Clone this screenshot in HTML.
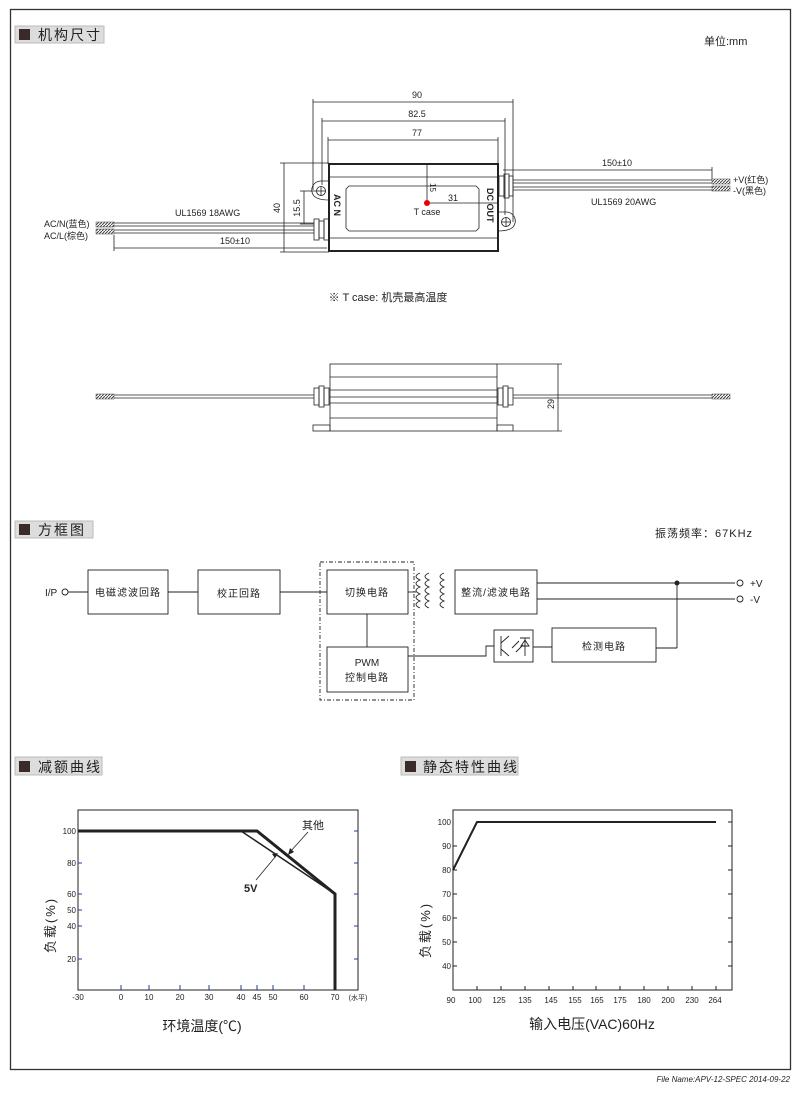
<!DOCTYPE html>
<html><head><meta charset="utf-8"><style>
body{margin:0;background:#fff;width:808px;height:1096px;overflow:hidden}
svg{display:block}
text{font-family:"Liberation Sans","Noto Sans CJK SC",sans-serif;fill:#222}
</style></head><body>
<svg width="808" height="1096" viewBox="0 0 808 1096" xmlns="http://www.w3.org/2000/svg">
<defs>
<pattern id="h" width="3" height="3" patternUnits="userSpaceOnUse"><rect width="3" height="3" fill="#fff"/><path d="M0 3L3 0" stroke="#444" stroke-width="1"/></pattern>
</defs>
<rect x="10.5" y="9.5" width="780" height="1060" fill="none" stroke="#333" stroke-width="1.3"/>

<g>
<rect x="15" y="26" width="89" height="17" fill="#ddd" stroke="#bbb"/><rect x="19" y="29" width="11" height="11" fill="#3a2a2a"/><text x="38" y="40" font-size="14" letter-spacing="2" fill="#444">机构尺寸</text>
<rect x="15" y="521" width="78" height="17" fill="#ddd" stroke="#bbb"/><rect x="19" y="524" width="11" height="11" fill="#3a2a2a"/><text x="38" y="535" font-size="14" letter-spacing="2" fill="#444">方框图</text>
<rect x="15" y="757" width="87" height="18" fill="#ddd" stroke="#bbb"/><rect x="19" y="761" width="11" height="11" fill="#3a2a2a"/><text x="38" y="772" font-size="14" letter-spacing="2" fill="#444">减额曲线</text>
<rect x="401" y="757" width="117" height="18" fill="#ddd" stroke="#bbb"/><rect x="405" y="761" width="11" height="11" fill="#3a2a2a"/><text x="423" y="772" font-size="14" letter-spacing="2" fill="#444">静态特性曲线</text>
<text x="704" y="45" font-size="11">单位:mm</text>
<text x="655" y="537" font-size="11" letter-spacing="1">振荡频率：67KHz</text>
</g>

<g stroke="#222" fill="none" stroke-width="0.8">
<line x1="313" y1="102" x2="513" y2="102"/><line x1="313" y1="99" x2="313" y2="190"/><line x1="513" y1="99" x2="513" y2="222"/>
<line x1="322" y1="121" x2="505" y2="121"/><line x1="322" y1="118" x2="322" y2="185"/><line x1="505" y1="118" x2="505" y2="215"/>
<line x1="328" y1="140" x2="498" y2="140"/><line x1="328" y1="137" x2="328" y2="164"/><line x1="498" y1="137" x2="498" y2="164"/>
<rect x="329" y="164" width="169" height="87" stroke-width="2"/>
<line x1="330" y1="177" x2="498" y2="177"/><line x1="330" y1="238" x2="498" y2="238"/>
<path d="M349 186H476L479 189V228L476 231H349L346 228V189Z"/>
<path d="M329 181H321A9 9 0 0 0 314 196Q318 200 329 200"/><circle cx="321" cy="191" r="4.5"/><line x1="316" y1="191" x2="326" y2="191"/><line x1="321" y1="186" x2="321" y2="196"/>
<path d="M498 212H506A9 9 0 0 1 513 227Q509 231 498 231"/><circle cx="506" cy="222" r="4.5"/><line x1="501" y1="222" x2="511" y2="222"/><line x1="506" y1="217" x2="506" y2="227"/>
<rect x="314" y="219" width="5" height="21"/><rect x="319" y="221" width="5" height="17"/><rect x="324" y="219" width="5" height="21"/>
<rect x="499" y="176" width="5" height="20"/><rect x="504" y="174" width="5" height="24"/><rect x="509" y="176" width="4" height="20"/>
<line x1="114" y1="223" x2="314" y2="223"/><line x1="114" y1="226" x2="314" y2="226"/>
<line x1="114" y1="230" x2="314" y2="230"/><line x1="114" y1="233" x2="314" y2="233"/>
<line x1="513" y1="180" x2="712" y2="180"/><line x1="513" y1="183" x2="712" y2="183"/>
<line x1="513" y1="187" x2="712" y2="187"/><line x1="513" y1="190" x2="712" y2="190"/>
<line x1="114" y1="248" x2="327" y2="248"/><line x1="114" y1="235" x2="114" y2="251"/>
<line x1="503" y1="170" x2="712" y2="170"/><line x1="712" y1="167" x2="712" y2="180"/>
<line x1="284" y1="163" x2="284" y2="252"/><line x1="280" y1="163" x2="329" y2="163"/><line x1="280" y1="252" x2="329" y2="252"/>
<line x1="304" y1="191" x2="304" y2="224"/><line x1="300" y1="191" x2="316" y2="191"/><line x1="300" y1="224" x2="314" y2="224"/>
<line x1="427" y1="164" x2="427" y2="203"/><line x1="427" y1="203" x2="498" y2="203"/>
</g>
<g fill="url(#h)" stroke="#444" stroke-width="0.5">
<rect x="96" y="222" width="18" height="5"/><rect x="96" y="229" width="18" height="5"/>
<rect x="712" y="179" width="18" height="5"/><rect x="712" y="186" width="18" height="5"/>
</g>
<circle cx="427" cy="203" r="3" fill="#e00"/>
<g font-size="9">
<text x="417" y="98" text-anchor="middle">90</text>
<text x="417" y="117" text-anchor="middle">82.5</text>
<text x="417" y="136" text-anchor="middle">77</text>
<text x="617" y="166" text-anchor="middle">150±10</text>
<text x="235" y="244" text-anchor="middle">150±10</text>
<text x="175" y="216">UL1569  18AWG</text>
<text x="591" y="205">UL1569  20AWG</text>
<text x="44" y="227">AC/N(蓝色)</text>
<text x="44" y="239">AC/L(棕色)</text>
<text x="733" y="183">+V(红色)</text>
<text x="733" y="194">-V(黑色)</text>
<text x="453" y="201" text-anchor="middle">31</text>
<text x="427" y="215" text-anchor="middle">T case</text>
<text transform="translate(280,208) rotate(-90)" text-anchor="middle">40</text>
<text transform="translate(300,208) rotate(-90)" text-anchor="middle">15.5</text>
<text transform="translate(430,183) rotate(90)" font-size="8">15</text>
<text transform="translate(334,194) rotate(90)" font-weight="bold">AC  N</text>
<text transform="translate(487,188) rotate(90)" font-weight="bold">DC  OUT</text>
</g>
<text x="388" y="301" font-size="11" text-anchor="middle">※ T case: 机壳最高温度</text>

<g stroke="#222" fill="none" stroke-width="0.8">
<rect x="330" y="364" width="167" height="67"/>
<line x1="330" y1="377" x2="497" y2="377"/><line x1="330" y1="390" x2="497" y2="390"/>
<line x1="330" y1="397" x2="497" y2="397"/><line x1="330" y1="403" x2="497" y2="403"/>
<line x1="330" y1="418" x2="497" y2="418"/>
<rect x="313" y="425" width="17" height="6"/><rect x="497" y="425" width="16" height="6"/>
<line x1="114" y1="395" x2="314" y2="395"/><line x1="114" y1="398" x2="314" y2="398"/>
<line x1="513" y1="395" x2="712" y2="395"/><line x1="513" y1="398" x2="712" y2="398"/>
<rect x="314" y="388" width="5" height="17"/><rect x="319" y="386" width="5" height="21"/><rect x="324" y="388" width="5" height="17"/>
<rect x="498" y="388" width="5" height="17"/><rect x="503" y="386" width="5" height="21"/><rect x="508" y="388" width="5" height="17"/>
<line x1="497" y1="364" x2="562" y2="364"/><line x1="513" y1="431" x2="562" y2="431"/><line x1="558" y1="364" x2="558" y2="431"/>
</g>
<g fill="url(#h)" stroke="#444" stroke-width="0.5"><rect x="96" y="394" width="18" height="5"/><rect x="712" y="394" width="18" height="5"/></g>
<text transform="translate(554,404) rotate(-90)" font-size="9" text-anchor="middle">29</text>

<g stroke="#222" fill="none" stroke-width="0.9">
<rect x="88" y="570" width="80" height="44"/>
<rect x="198" y="570" width="82" height="44"/>
<rect x="320" y="562" width="94" height="138" stroke-dasharray="4,2,1,2"/>
<rect x="327" y="570" width="81" height="44"/>
<rect x="327" y="647" width="81" height="45"/>
<rect x="455" y="570" width="82" height="44"/>
<rect x="552" y="628" width="104" height="34"/>
<rect x="494" y="630" width="39" height="32"/>
<circle cx="65" cy="592" r="3"/>
<line x1="68" y1="592" x2="88" y2="592"/><line x1="168" y1="592" x2="198" y2="592"/><line x1="280" y1="592" x2="327" y2="592"/>
<line x1="408" y1="592" x2="416" y2="592"/>
<path d="M420 573q-8 3.5 0 7q-8 3.5 0 7q-8 3.5 0 7q-8 3.5 0 7q-8 3.5 0 7"/>
<path d="M429 573q-8 3.5 0 7q-8 3.5 0 7q-8 3.5 0 7q-8 3.5 0 7q-8 3.5 0 7"/>
<path d="M444 573q-8 3.5 0 7q-8 3.5 0 7q-8 3.5 0 7q-8 3.5 0 7q-8 3.5 0 7"/>
<line x1="537" y1="583" x2="735" y2="583"/><line x1="537" y1="599" x2="735" y2="599"/>
<circle cx="740" cy="583" r="3"/><circle cx="740" cy="599" r="3"/>
<line x1="677" y1="583" x2="677" y2="648"/><line x1="677" y1="648" x2="656" y2="648"/>
<line x1="552" y1="647" x2="533" y2="647"/>
<path d="M494 646H486V656H408"/>
<line x1="367" y1="647" x2="367" y2="614"/>
<line x1="501" y1="636" x2="501" y2="656"/><path d="M501 643L509 636M501 649L509 656"/>
<path d="M512 648l7-7M516 652l7-7"/>
<path d="M520 638h10M525 638v18M521 646h8l-4-6z"/>
</g>
<circle cx="677" cy="583" r="2.5" fill="#222"/>
<g font-size="10" text-anchor="middle">
<text x="45" y="596" text-anchor="start">I/P</text>
<text x="128" y="596" letter-spacing="1">电磁滤波回路</text>
<text x="239" y="597" letter-spacing="1">校正回路</text>
<text x="367" y="596" letter-spacing="1">切换电路</text>
<text x="496" y="596" letter-spacing="1">整流/滤波电路</text>
<text x="604" y="650" letter-spacing="1">检测电路</text>
<text x="367" y="666">PWM</text>
<text x="367" y="681" letter-spacing="1">控制电路</text>
<text x="750" y="587" text-anchor="start">+V</text>
<text x="750" y="603" text-anchor="start">-V</text>
</g>

<g stroke="#222" fill="none">
<rect x="78" y="810" width="280" height="180" stroke-width="1"/>
<g stroke="#1a3fa0" stroke-width="1">
<path d="M78 831h4M78 863h4M78 894h4M78 910h4M78 926h4M78 959h4"/>
<path d="M358 831h-4M358 863h-4M358 894h-4M358 926h-4M358 959h-4"/>
<path d="M121 990v-5M149 990v-5M180 990v-5M209 990v-5M241 990v-5M257 990v-5M273 990v-5M304 990v-5M335 990v-5"/>
</g>
<path d="M78 831H257L335 894V990" stroke-width="3"/>
<path d="M241 831L335 894" stroke-width="1.5"/>
<path d="M290 852L308 832" stroke-width="0.8"/><path d="M256 880L276 856" stroke-width="0.8"/>
</g>
<path d="M288 855l2-7 4 4z" fill="#222"/><path d="M278 853l-6 1 3 4z" fill="#222"/>
<g font-size="8" text-anchor="end">
<text x="76" y="834">100</text><text x="76" y="866">80</text><text x="76" y="897">60</text><text x="76" y="913">50</text><text x="76" y="929">40</text><text x="76" y="962">20</text>
</g>
<g font-size="8" text-anchor="middle">
<text x="78" y="1000">-30</text><text x="121" y="1000">0</text><text x="149" y="1000">10</text><text x="180" y="1000">20</text><text x="209" y="1000">30</text><text x="241" y="1000">40</text><text x="257" y="1000">45</text><text x="273" y="1000">50</text><text x="304" y="1000">60</text><text x="335" y="1000">70</text>
<text x="358" y="1000" font-size="7">(水平)</text>
</g>
<text x="302" y="829" font-size="11">其他</text>
<text x="244" y="892" font-size="11" font-weight="bold">5V</text>
<text transform="translate(55,925) rotate(-90)" font-size="13" text-anchor="middle" fill="#555" letter-spacing="2">负载(%)</text>
<text x="202" y="1031" font-size="14" text-anchor="middle" fill="#333">环境温度(℃)</text>

<g stroke="#222" fill="none">
<rect x="453" y="810" width="279" height="180" stroke-width="1"/>
<path d="M453 846h4M453 870h4M453 894h4M453 918h4M453 942h4M453 966h4"/>
<path d="M732 822h-4M732 846h-4M732 870h-4M732 894h-4M732 918h-4M732 942h-4M732 966h-4"/>
<path d="M477 990v-4M501 990v-4M525 990v-4M549 990v-4M573 990v-4M596 990v-4M620 990v-4M644 990v-4M668 990v-4M692 990v-4M716 990v-4"/>
<path d="M453 870L477 822H716" stroke-width="2"/>
</g>
<g font-size="8" text-anchor="end">
<text x="451" y="825">100</text><text x="451" y="849">90</text><text x="451" y="873">80</text><text x="451" y="897">70</text><text x="451" y="921">60</text><text x="451" y="945">50</text><text x="451" y="969">40</text>
</g>
<g font-size="8" text-anchor="middle">
<text x="451" y="1003">90</text><text x="475" y="1003">100</text><text x="499" y="1003">125</text><text x="525" y="1003">135</text><text x="551" y="1003">145</text><text x="575" y="1003">155</text><text x="597" y="1003">165</text><text x="620" y="1003">175</text><text x="644" y="1003">180</text><text x="668" y="1003">200</text><text x="692" y="1003">230</text><text x="715" y="1003">264</text>
</g>
<text transform="translate(430,930) rotate(-90)" font-size="13" text-anchor="middle" fill="#555" letter-spacing="2">负载(%)</text>
<text x="592" y="1029" font-size="14" text-anchor="middle" fill="#333">输入电压(VAC)60Hz</text>

<text x="790" y="1082" font-size="8" text-anchor="end" font-style="italic" fill="#888">File Name:APV-12-SPEC   2014-09-22</text>
</svg>
</body></html>
